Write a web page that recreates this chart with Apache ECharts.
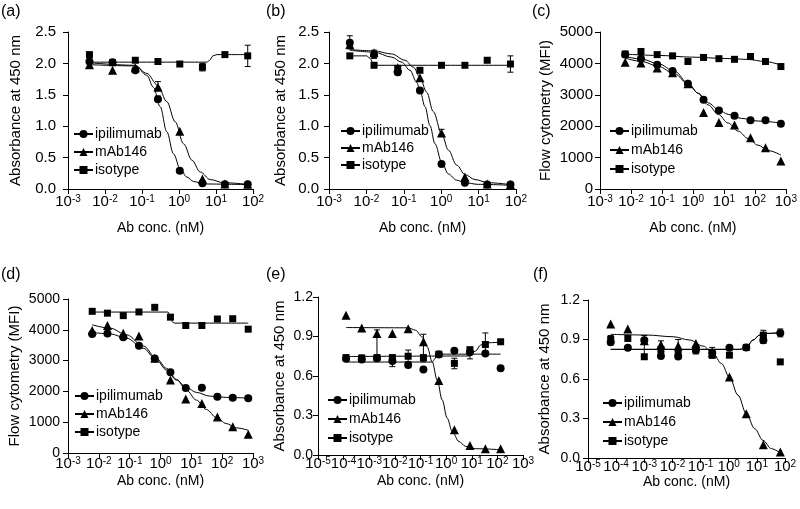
<!DOCTYPE html>
<html><head><meta charset="utf-8">
<script src="https://cdn.jsdelivr.net/npm/echarts@6/dist/echarts.min.js"></script>
<style>html,body{margin:0;padding:0;background:#fff}#c{width:800px;height:509px}</style>
</head><body><div id="c"></div>
<script>
const FONT = '"Liberation Sans", Arial, sans-serif';
const seriesNames = ['ipilimumab', 'mAb146', 'isotype'];
const seriesSymbols = ['circle', 'triangle', 'rect'];
const seriesSymbolSizes = [8, 9, 7];
const panelLabels = ['(a)', '(b)', '(c)', '(d)', '(e)', '(f)'];
const xTitle = 'Ab conc. (nM)';
const yTitleAbs = 'Absorbance at 450 nm';
const yTitleFlow = 'Flow cytometry (MFI)';

// (a)
const concA = [0.0038, 0.016, 0.066, 0.27, 1.05, 4.3, 17.4, 72];
const ipiA = [2.03, 2.02, 1.89, 1.43, 0.29, 0.09, 0.075, 0.075];
const mabA = [1.98, 1.89, 1.93, 1.62, 0.92, 0.16, 0.08, 0.075];
const isoA = [2.14, 2.01, 2.05, 2.03, 1.99, 1.94, 2.14, 2.12];
const fitIpiA = [[0.0038,2.01],[0.066,1.97],[0.135,1.81],[0.204,1.62],[0.31,1.31],[0.469,0.91],[0.711,0.56],[1.077,0.32],[1.63,0.19],[2.47,0.12],[4.61,0.08],[72,0.07]];
const fitMabA = [[0.0038,1.98],[0.066,1.96],[0.135,1.84],[0.268,1.65],[0.469,1.39],[0.789,1.07],[1.33,0.72],[2.23,0.46],[3.75,0.27],[7.0,0.15],[16.1,0.10],[72,0.075]];
const fitIsoA = [[0.0038,2.02],[5.69,2.02],[6.72,2.05],[8.26,2.12],[10.6,2.14],[72,2.14]];
const errA = [[0.27,1.57,1.71],[0.27,1.40,1.48],[4.3,1.88,2.0],[72,1.95,2.29]];

// (b)
const concB = [0.0036, 0.016, 0.069, 0.27, 1.02, 4.3, 17, 71];
const ipiB = [2.33, 2.14, 1.86, 1.57, 0.40, 0.10, 0.07, 0.07];
const mabB = [2.30, 2.17, 1.93, 1.77, 0.89, 0.19, 0.08, 0.07];
const isoB = [2.12, 1.97, 1.92, 1.89, 1.97, 1.97, 2.05, 1.99];
const fitIpiB = [[0.0036,2.21],[0.016,2.18],[0.0474,2.10],[0.0877,2.02],[0.1466,1.89],[0.2208,1.70],[0.271,1.57],[0.369,1.31],[0.501,1.01],[0.682,0.72],[1.029,0.43],[1.552,0.24],[2.594,0.14],[4.325,0.10],[9.84,0.074],[71,0.06]];
const fitMabB = [[0.0036,2.22],[0.016,2.20],[0.0474,2.15],[0.1076,2.05],[0.180,1.94],[0.271,1.78],[0.409,1.54],[0.616,1.23],[1.029,0.88],[1.552,0.62],[2.594,0.38],[4.325,0.23],[8.017,0.15],[18.2,0.10],[71,0.07]];
const fitIsoB = [[0.0036,2.12],[0.0102,2.12],[0.0125,2.08],[0.0153,1.99],[0.0188,1.97],[71,1.97]];
const errB = [[0.0036,2.23,2.44],[0.016,2.08,2.21],[1.02,0.86,0.95],[71,1.86,2.12],[0.069,1.82,1.95]];

// (c)
const concC = [0.0065, 0.021, 0.07, 0.22, 0.69, 2.2, 6.9, 22, 72, 220, 690];
const ipiC = [4280, 4150, 3960, 3760, 3350, 2840, 2500, 2330, 2190, 2190, 2080];
const mabC = [4040, 4010, 3850, 3700, 3350, 2440, 2120, 2040, 1630, 1310, 890];
const isoC = [4300, 4380, 4280, 4240, 4060, 4190, 4150, 4130, 4220, 4060, 3900];
const fitIpiC = [[0.0065,4222],[0.0224,4136],[0.0769,3987],[0.264,3742],[0.69,3369],[1.49,3049],[2.3,2868],[3.12,2740],[6.9,2516],[13.7,2377],[36.8,2249],[126,2164],[693,2100]];
const fitMabC = [[0.0065,4168],[0.0224,4062],[0.0769,3902],[0.264,3657],[0.709,3337],[1.49,3049],[3.12,2676],[6.54,2377],[13.7,2100],[28.7,1844],[60.3,1610],[126,1397],[265,1226],[693,1077]];
const fitIsoC = [[0.0065,4296],[0.0769,4254],[0.908,4200],[10.7,4158],[60.3,4126],[207,4062],[693,3945]];

// (d)
const concD = [0.0061, 0.019, 0.062, 0.2, 0.65, 2.1, 6.6, 22, 70, 220, 700];
const ipiD = [3860, 3880, 3760, 3480, 3070, 2620, 2110, 2120, 1830, 1790, 1780];
const mabD = [3980, 4140, 3890, 3800, 3080, 2370, 1750, 1610, 1170, 850, 610];
const isoD = [4600, 4540, 4460, 4580, 4730, 4410, 4140, 4140, 4350, 4360, 4020];
const fitIpiD = [[0.0061,3913],[0.0229,3870],[0.0792,3728],[0.274,3402],[0.74,3022],[1.56,2696],[3.29,2370],[6.92,2130],[14.6,1967],[39.4,1848],[136,1804],[703,1783]];
const fitMabD = [[0.0061,4163],[0.0229,4054],[0.0792,3837],[0.274,3478],[0.74,3076],[1.56,2750],[3.29,2391],[6.92,2043],[14.6,1717],[30.7,1413],[64.7,1152],[136,957],[287,815],[703,739]];
const fitIsoD = [[0.0061,4576],[1.77,4576],[2.1,4420],[2.5,4240],[2.9,4217],[703,4217]];

// (e)
const concE = [0.000124, 0.00051, 0.002, 0.008, 0.033, 0.13, 0.52, 2.1, 8.5, 34, 134];
const ipiE = [0.731, 0.726, 0.734, 0.713, 0.683, 0.650, 0.764, 0.792, 0.781, 0.77, 0.658];
const mabE = [1.061, 0.965, 0.923, 0.923, 0.958, 0.860, 0.565, 0.192, 0.073, 0.048, 0.048];
const isoE = [0.74, 0.735, 0.74, 0.74, 0.75, 0.74, 0.766, 0.696, 0.80, 0.839, 0.86];
const fitIpiE = [[0.000124,0.706],[0.286,0.706],[0.363,0.73],[0.448,0.766],[134,0.766]];
const fitMabE = [[0.000124,0.968],[0.033,0.966],[0.0638,0.948],[0.116,0.897],[0.182,0.822],[0.286,0.708],[0.448,0.570],[0.703,0.418],[1.10,0.280],[1.73,0.179],[3.15,0.103],[5.74,0.066],[14.1,0.048],[134,0.040]];
const fitIsoE = [[0.000124,0.748],[7.74,0.752],[14.1,0.79],[22.1,0.835],[34.7,0.852],[134,0.857]];
const errE = [[0.002,0.735,0.95],[0.13,0.708,0.917],[0.033,0.708,0.797],[2.1,0.655,0.735],[34,0.76,0.927],[8.5,0.73,0.81],[0.008,0.671,0.746],[0.00051,0.72,0.76]];

// (f)
const concF = [0.000064, 0.00026, 0.001, 0.0039, 0.016, 0.068, 0.26, 1.06, 4.2, 17, 68];
const ipiF = [0.88, 0.837, 0.895, 0.774, 0.77, 0.82, 0.80, 0.837, 0.84, 0.895, 0.95];
const mabF = [1.017, 0.979, 0.89, 0.86, 0.85, 0.87, 0.80, 0.616, 0.337, 0.101, 0.046];
const isoF = [0.90, 0.908, 0.769, 0.824, 0.80, 0.82, 0.78, 0.781, 0.84, 0.933, 0.73];
const fitIpiF = [[0.000064,0.824],[2.46,0.824],[4.23,0.84],[7.29,0.895],[12.6,0.934],[21.7,0.946],[68,0.951]];
const fitMabF = [[0.000064,0.939],[0.0012,0.934],[0.0106,0.921],[0.0414,0.896],[0.123,0.850],[0.278,0.794],[0.549,0.718],[1.084,0.611],[2.14,0.477],[4.23,0.337],[8.36,0.223],[16.5,0.134],[32.6,0.071],[68,0.038]];
const fitIsoF = [[0.000064,0.826],[2.46,0.826],[4.23,0.84],[7.29,0.895],[12.6,0.934],[21.7,0.946],[68,0.951]];
const errF = [[0.000064,0.86,0.93],[0.001,0.75,0.93],[0.0039,0.76,0.89],[0.016,0.76,0.90],[0.068,0.79,0.85],[0.26,0.76,0.84],[17,0.87,0.93],[17,0.90,0.97],[68,0.92,0.98]];

const yTicksAbsA = [0, 2.5, 0.5];
const yTicksFlow = [0, 5000, 1000];
const yTicksAbsE = [0, 1.2, 0.3];

const panels = [
  {conc: concA, vals: [ipiA, mabA, isoA], fits: [fitIpiA, fitMabA, fitIsoA], err: errA, x: [0.001, 100], y: yTicksAbsA, dec: 1, ytitle: yTitleAbs,
   grid: {left: 68, top: 32, width: 185, height: 157}, nameGapY: 45, nameGapX: 32, ylm: 12, xlm: 5, yfs: 15, leg: {left: 73, top: 127, gap: 4}, lab: {left: 1, top: 4}},
  {conc: concB, vals: [ipiB, mabB, isoB], fits: [fitIpiB, fitMabB, fitIsoB], err: errB, x: [0.001, 100], y: yTicksAbsA, dec: 1, ytitle: yTitleAbs,
   grid: {left: 329, top: 32, width: 187, height: 157}, nameGapY: 41, nameGapX: 32, ylm: 10, xlm: 5, yfs: 15, leg: {left: 340, top: 124, gap: 3}, lab: {left: 266, top: 4}},
  {conc: concC, vals: [ipiC, mabC, isoC], fits: [fitIpiC, fitMabC, fitIsoC], err: [], x: [0.001, 1000], y: yTicksFlow, dec: 0, ytitle: yTitleFlow,
   grid: {left: 600, top: 32, width: 187, height: 157}, nameGapY: 47, nameGapX: 32, ylm: 7, xlm: 5, yfs: 15, leg: {left: 609, top: 124, gap: 5}, lab: {left: 532, top: 4}},
  {conc: concD, vals: [ipiD, mabD, isoD], fits: [fitIpiD, fitMabD, fitIsoD], err: [], x: [0.001, 1000], y: yTicksFlow, dec: 0, ytitle: yTitleFlow,
   grid: {left: 68, top: 299, width: 185, height: 154}, nameGapY: 46, nameGapX: 21, ylm: 8, xlm: 3, yfs: 14, leg: {left: 74, top: 389, gap: 4}, lab: {left: 1, top: 267}},
  {conc: concE, vals: [ipiE, mabE, isoE], fits: [fitIpiE, fitMabE, fitIsoE], err: errE, x: [0.00001, 1000], y: yTicksAbsE, dec: 1, ytitle: yTitleAbs,
   grid: {left: 318, top: 297, width: 205, height: 158}, nameGapY: 31, nameGapX: 19, ylm: 5, xlm: 1, yfs: 14, leg: {left: 327, top: 393, gap: 5}, lab: {left: 266, top: 267}},
  {conc: concF, vals: [ipiF, mabF, isoF], fits: [fitIpiF, fitMabF, fitIsoF], err: errF, x: [0.00001, 100], y: yTicksAbsE, dec: 1, ytitle: yTitleAbs,
   grid: {left: 588, top: 300, width: 197, height: 158}, nameGapY: 36, nameGapX: 17, ylm: 8, xlm: 1, yfs: 14, leg: {left: 602, top: 396, gap: 5}, lab: {left: 533, top: 267}}
];

const option = {animation: false, backgroundColor: '#fff', textStyle: {fontFamily: FONT, color: '#000'},
  grid: [], xAxis: [], yAxis: [], series: [], legend: [], title: []};

function errRender(params, api) {
  const x = api.value(0), lo = api.value(1), hi = api.value(2);
  const p1 = api.coord([x, lo]), p2 = api.coord([x, hi]);
  const st = {stroke: '#000', lineWidth: 1};
  return {type: 'group', children: [
    {type: 'line', shape: {x1: p1[0], y1: p1[1], x2: p2[0], y2: p2[1]}, style: st},
    {type: 'line', shape: {x1: p1[0] - 3, y1: p1[1], x2: p1[0] + 3, y2: p1[1]}, style: st},
    {type: 'line', shape: {x1: p2[0] - 3, y1: p2[1], x2: p2[0] + 3, y2: p2[1]}, style: st}
  ]};
}

panels.forEach((p, i) => {
  option.grid.push(Object.assign({containLabel: false}, p.grid));
  option.xAxis.push({type: 'log', logBase: 10, gridIndex: i, min: p.x[0], max: p.x[1], interval: 1,
    name: xTitle, nameLocation: 'middle', nameGap: p.nameGapX, nameTextStyle: {fontSize: 14, color: '#000', fontFamily: FONT},
    axisLine: {lineStyle: {color: '#000', width: 1}}, axisTick: {length: 5, lineStyle: {color: '#000'}}, splitLine: {show: false}, minorTick: {show: false},
    axisLabel: {margin: p.xlm, fontSize: 15, color: '#000', fontFamily: FONT, hideOverlap: false,
      formatter: v => '{b|10}{s|' + Math.round(Math.log10(v)) + '}',
      rich: {b: {fontSize: 15, lineHeight: 15, fontFamily: FONT, color: '#000', verticalAlign: 'bottom'},
             s: {fontSize: 10, lineHeight: 10, fontFamily: FONT, color: '#000', verticalAlign: 'top'}}}});
  option.yAxis.push({type: 'value', gridIndex: i, min: p.y[0], max: p.y[1], interval: p.y[2],
    name: p.ytitle, nameLocation: 'middle', nameGap: p.nameGapY, nameTextStyle: {fontSize: 15, color: '#000', fontFamily: FONT},
    axisLine: {show: true, lineStyle: {color: '#000', width: 1}}, axisTick: {show: true, length: 5, lineStyle: {color: '#000'}}, splitLine: {show: false},
    axisLabel: {margin: p.ylm, fontSize: p.yfs, color: '#000', fontFamily: FONT, formatter: v => v.toFixed(p.dec)}});
  p.fits.forEach((f, k) => {
    option.series.push({type: 'line', name: seriesNames[k], xAxisIndex: i, yAxisIndex: i, data: f,
      symbol: seriesSymbols[k], symbolSize: seriesSymbolSizes[k], showSymbol: false, smooth: 0.35, smoothMonotone: 'x',
      lineStyle: {color: '#000', width: 1}, itemStyle: {color: '#000'}, z: 2, silent: true});
  });
  p.vals.forEach((vals, k) => {
    option.series.push({type: 'scatter', name: seriesNames[k], xAxisIndex: i, yAxisIndex: i,
      data: p.conc.map((c, j) => [c, vals[j]]), symbol: seriesSymbols[k], symbolSize: seriesSymbolSizes[k],
      itemStyle: {color: '#000', opacity: 1}, z: 3, silent: true});
  });
  if (p.err.length) {
    option.series.push({type: 'custom', xAxisIndex: i, yAxisIndex: i, data: p.err, renderItem: errRender, z: 2, silent: true});
  }
  option.legend.push({orient: 'vertical', left: p.leg.left, top: p.leg.top, itemWidth: 19, itemHeight: 10, itemGap: p.leg.gap,
    padding: 0, selectedMode: false, data: seriesNames, textStyle: {fontSize: 14, color: '#000', fontFamily: FONT, padding: [0, 0, 0, -3]}});
  option.title.push({text: panelLabels[i], left: p.lab.left, top: p.lab.top, padding: 0,
    textStyle: {fontSize: 16, fontWeight: 'normal', color: '#000', fontFamily: FONT}});
});

const chart = echarts.init(document.getElementById('c'), null, {renderer: 'canvas'});
chart.setOption(option);
</script>
</body></html>
